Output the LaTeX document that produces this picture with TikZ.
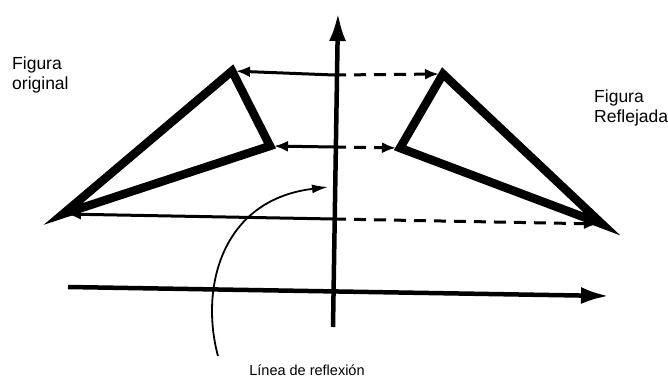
\documentclass[tikz,border=0pt]{standalone}
\usepackage{fontspec}
\setmainfont{Liberation Sans}
\usetikzlibrary{arrows.meta}
\begin{document}
\begin{tikzpicture}[x=1pt,y=-1pt,
  tri/.style={line width=8.5pt,line join=miter,line cap=round},
  axis/.style={line width=4.5pt,-{Latex[length=28pt,width=17pt]}},
  refl/.style={line width=3pt,-{Latex[length=14pt,width=11pt]},shorten >=4pt},
  refld/.style={refl,dash pattern=on 12pt off 8pt},
  lbl/.style={font=\fontsize{17.5}{20}\selectfont,align=left,inner sep=0pt}]
\useasboundingbox (0,0) rectangle (668,379);
% points
\coordinate (A) at (232,71);
\coordinate (B) at (270,146);
\coordinate (C) at (63,214);
\coordinate (A2) at (443,74);
\coordinate (B2) at (400,148);
\coordinate (C2) at (602,224);
\coordinate (ya) at (334,75);
\coordinate (yb) at (334,147);
\coordinate (yc) at (334,219);
\coordinate (vbot) at (333,327);
\coordinate (vtop) at (338,13);
\coordinate (hl) at (68,287);
\coordinate (hr) at (609,296);
\coordinate (cs) at (218,356);
\coordinate (ce) at (328,187);
% axes
\draw[axis] (vbot) -- (vtop);
\draw[axis] (hl) -- (hr);
% triangles
\draw[tri] (A) -- (B) -- (C) -- cycle;
\draw[tri] (A2) -- (B2) -- (C2) -- cycle;
% reflection lines
\draw[refl] (ya) -- (A);
\draw[refld] (ya) -- (A2);
\draw[refl] (yb) -- (B);
\draw[refld] (yb) -- (B2);
\draw[refl] (yc) -- (C);
\draw[refld] (yc) -- (C2);
% curved arrow
\draw[line width=1.8pt,-{Latex[length=16pt,width=9pt]}] (cs) .. controls (200,290) and (220,200) .. (ce);
% labels
\node[lbl,anchor=north west] (orig) at (12,57) {Figura\\original};
\node[lbl,anchor=north west] (refl) at (594,90) {Figura\\Reflejada};
\node[lbl,font=\fontsize{14.5}{17}\selectfont,anchor=center] (linea) at (307,370) {Línea de reflexión};
\end{tikzpicture}
\end{document}
